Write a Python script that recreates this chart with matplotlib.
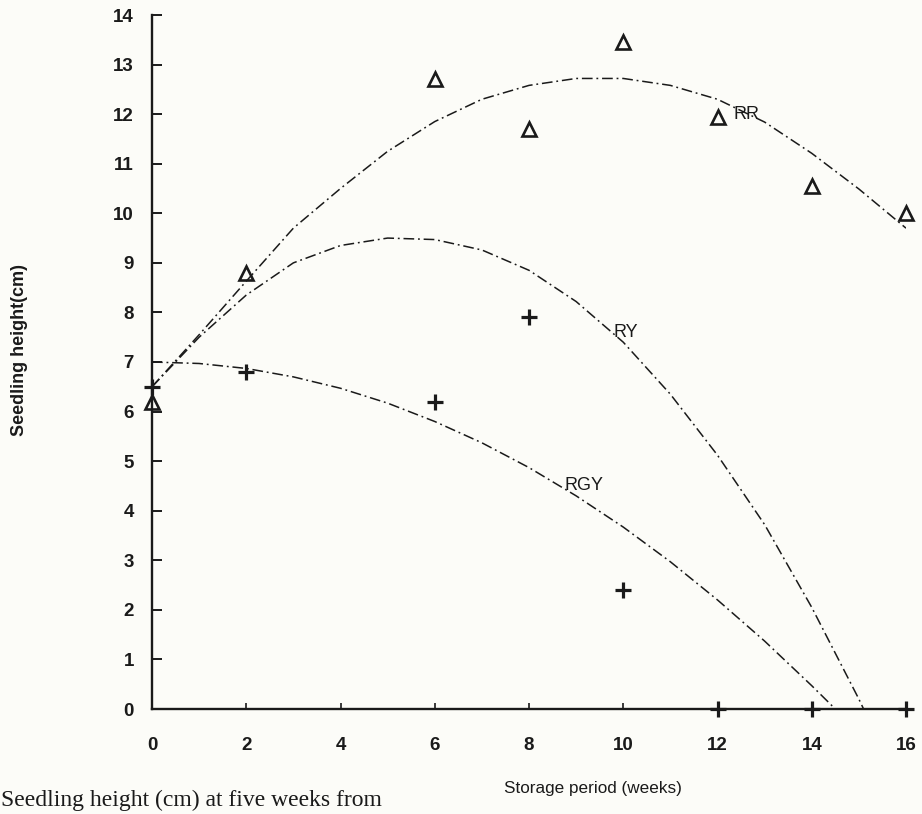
import matplotlib
matplotlib.use("Agg")
import matplotlib.pyplot as plt

# ---- data ----
weeks = [0, 2, 6, 8, 10, 12, 14, 16]
rr_points = [6.2, 8.8, 12.7, 11.7, 13.45, 11.95, 10.55, 10.0]      # open triangles
plus_points = [6.5, 6.8, 6.2, 7.9, 2.4, 0.0, 0.0, 0.0]               # plus markers

curve_x = [0, 1, 2, 3, 4, 5, 6, 7, 8, 9, 10, 11, 12, 13, 14, 15, 16]
rr_curve = [6.5, 7.55, 8.63, 9.7, 10.5, 11.25, 11.85, 12.3, 12.58, 12.72,
            12.72, 12.58, 12.3, 11.84, 11.21, 10.49, 9.7]
ry_x = [0, 1, 2, 3, 4, 5, 6, 7, 8, 9, 10, 11, 12, 13, 14, 15, 15.1]
ry_curve = [6.5, 7.5, 8.35, 9.0, 9.35, 9.5, 9.47, 9.26, 8.85, 8.22, 7.4,
            6.35, 5.12, 3.72, 2.05, 0.2, 0.0]
rgy_x = [0, 1, 2, 3, 4, 5, 6, 7, 8, 9, 10, 11, 12, 13, 14, 14.5]
rgy_curve = [7.0, 6.97, 6.87, 6.7, 6.47, 6.17, 5.8, 5.37, 4.87, 4.3, 3.67,
             2.97, 2.2, 1.37, 0.47, 0.0]

x_ticks = [0, 2, 4, 6, 8, 10, 12, 14, 16]
y_ticks = list(range(0, 15))
curve_labels = ["RR", "RY", "RGY"]

W, H = 922, 814
bg = "#fcfcf8"
fig = plt.figure(figsize=(W / 100, H / 100), dpi=100, facecolor=bg)
ax = fig.add_axes([152 / W, 1 - 709 / H, (906 - 152) / W, (709 - 15) / H])
ax.set_facecolor(bg)

ink = "#1a1a1a"
ls = (0, (7, 2.5, 1.2, 2.5))
ax.plot(curve_x, rr_curve, color=ink, lw=1.1, ls=ls)
ax.plot(ry_x, ry_curve, color=ink, lw=1.1, ls=ls)
ax.plot(rgy_x, rgy_curve, color=ink, lw=1.1, ls=ls)

ax.plot(weeks, rr_points, ls="none", marker="^", ms=10, mfc="none",
        mec=ink, mew=1.9, clip_on=False, zorder=5)
ax.plot(weeks, plus_points, ls="none", marker="+", ms=12, mec=ink,
        mew=2.3, clip_on=False, zorder=5)

lab_font = dict(family="Liberation Sans", fontsize=13, color=ink)
ax.text(12.35, 12.0, curve_labels[0], ha="left", va="center", **lab_font)
ax.text(9.8, 7.6, curve_labels[1], ha="left", va="center", **lab_font)
ax.text(8.75, 4.5, curve_labels[2], ha="left", va="center", **lab_font)

ax.set_xlim(0, 16)
ax.set_ylim(0, 14)
ax.set_xticks(x_ticks)
ax.set_yticks(y_ticks)
ax.set_xticklabels([str(v) for v in x_ticks])
ax.set_yticklabels([str(v) for v in y_ticks])
for s in ("top", "right"):
    ax.spines[s].set_visible(False)
for s in ("left", "bottom"):
    ax.spines[s].set_color(ink)
    ax.spines[s].set_linewidth(1.7)
ax.tick_params(axis="y", direction="in", length=7, width=1.4, pad=13, colors=ink)
ax.tick_params(axis="x", direction="in", length=4, width=1.2, pad=20, colors=ink)
for t in ax.get_xticklabels() + ax.get_yticklabels():
    t.set_fontfamily("Liberation Sans")
    t.set_fontweight("bold")
    t.set_fontsize(13.5)

fig.text(593 / W, 1 - 788 / H, "Storage period (weeks)", ha="center",
         va="center", family="Liberation Sans", fontsize=12.3, color=ink)
fig.text(19 / W, 1 - 350 / H, "Seedling height(cm)", ha="center",
         va="center", rotation=90, family="Liberation Sans", fontsize=13,
         fontweight="bold", color=ink)
fig.text(1 / W, 1 - 806 / H, "Seedling height (cm) at five weeks from",
         ha="left", va="baseline", family="Liberation Serif", fontsize=17,
         color=ink)

fig.savefig("out.png", dpi=100, facecolor=bg)
